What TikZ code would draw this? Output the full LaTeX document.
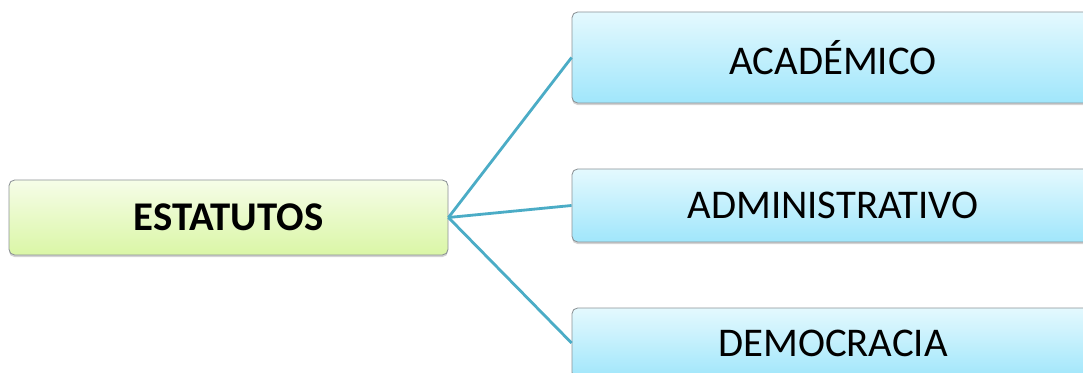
\documentclass[tikz,border=0pt]{standalone}
\usepackage{xcolor}
\usepackage{fontspec}
\setmainfont{Carlito}
\definecolor{boxgray}{RGB}{140, 146, 150}
\definecolor{roottop}{RGB}{246, 253, 232}
\definecolor{rootbottom}{RGB}{218, 246, 166}
\definecolor{leaftop}{RGB}{228, 249, 254}
\definecolor{leafbottom}{RGB}{160, 230, 251}
\definecolor{linkteal}{RGB}{75, 172, 198}
\usetikzlibrary{shadows}

\begin{document}
\begin{tikzpicture}[
    x=0.025cm, y=-0.025cm,
    link/.style={draw=linkteal, line width=2pt},
    root/.style={rectangle, rounded corners=4pt, draw=boxgray, line width=0.6pt, top color=roottop, bottom color=rootbottom, minimum width=439*0.025cm, minimum height=75*0.025cm, font=\fontsize{29}{35}\selectfont\bfseries, drop shadow={shadow xshift=0pt, shadow yshift=-1.5pt, opacity=0.35}},
    leaf/.style={rectangle, rounded corners=4pt, draw=boxgray, line width=0.6pt, top color=leaftop, bottom color=leafbottom, minimum width=522*0.025cm, font=\fontsize{29}{35}\selectfont, drop shadow={shadow xshift=0pt, shadow yshift=-1.5pt, opacity=0.35}}
]
    \useasboundingbox (0,0) rectangle (1083,373);
    \clip (0,0) rectangle (1083,373);

    % Root
    \node[root] (estatutos) at (228.5,217.5) {ESTATUTOS};

    % Branches
    \node[leaf, minimum height=91*0.025cm] (academico) at (833,57.5) {ACADÉMICO};
    \node[leaf, minimum height=73*0.025cm] (administrativo) at (833,205.5) {ADMINISTRATIVO};
    \node[leaf, minimum height=70*0.025cm] (democracia) at (833,343) {DEMOCRACIA};

    % Links
    \draw[link] (estatutos.east) -- (academico.west);
    \draw[link] (estatutos.east) -- (administrativo.west);
    \draw[link] (estatutos.east) -- (democracia.west);
\end{tikzpicture}
\end{document}
